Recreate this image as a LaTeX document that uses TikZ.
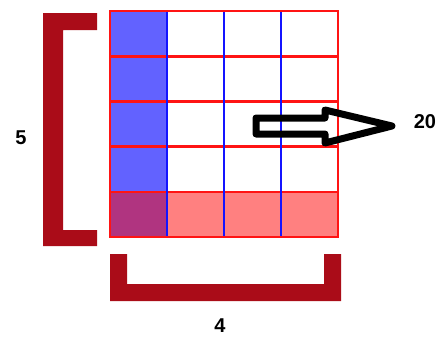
\documentclass[tikz,border=0pt]{standalone}
\usepackage{fontspec}
\setmainfont{Liberation Sans}
\definecolor{bracketred}{RGB}{170,12,24}
\definecolor{cellblue}{RGB}{98,98,255}
\definecolor{cellred}{RGB}{255,128,128}
\definecolor{cellmix}{RGB}{176,52,128}
\definecolor{gridred}{RGB}{255,20,20}
\definecolor{gridblue}{RGB}{20,20,255}
\tikzset{
  bracket/.style={fill=bracketred, draw=none},
  redline/.style={draw=gridred, line width=2.6pt},
  blueline/.style={draw=gridblue, line width=2.2pt},
  outline arrow/.style={draw=black, line width=7pt, line join=round},
  label/.style={font=\bfseries\fontsize{20}{24}\selectfont, text=black, inner sep=0pt}
}
\begin{document}
\begin{tikzpicture}[x=1pt, y=-1pt]
\useasboundingbox (0,0) rectangle (440,340);
% fills
\fill[cellblue] (110,11) rectangle (167,192);
\fill[cellred] (167,192) rectangle (338,237);
\fill[cellmix] (110,192) rectangle (167,237);
% horizontal red lines
\foreach \y in {56.2,101.4,146.6,191.8} \draw[redline] (110,\y) -- (338,\y);
% vertical blue lines
\foreach \x in {167,224,281} \draw[blueline] (\x,11) -- (\x,237);
% outer border
\draw[redline] (110,11) rectangle (338,237);
% left bracket
\fill[bracket] (43,13) -- (97,13) -- (97,30) -- (63,30) -- (63,230) -- (97,230) -- (97,246) -- (43,246) -- cycle;
% bottom bracket
\fill[bracket] (110,254) -- (127,254) -- (127,284) -- (324,284) -- (324,254) -- (341,254) -- (341,301) -- (110,301) -- cycle;
% arrow
\draw[outline arrow] (256,118) -- (325,118) -- (325,110) -- (392,126) -- (325,143) -- (325,134) -- (256,134) -- cycle;
% labels
\node[label] (five) at (21,138) {5};
\node[label] (four) at (220,326) {4};
\node[label] (twenty) at (425,122) {20};
\end{tikzpicture}
\end{document}
